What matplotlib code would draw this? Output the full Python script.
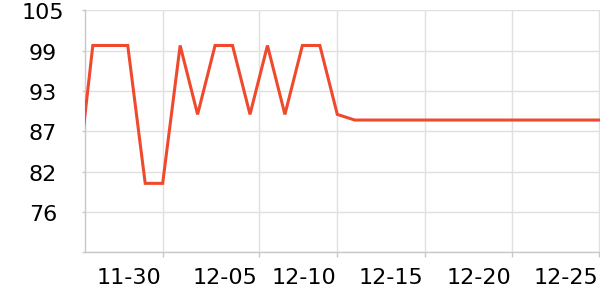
import matplotlib
matplotlib.use("Agg")
import matplotlib.pyplot as plt
import matplotlib.dates as mdates
import matplotlib.transforms as mtransforms
import numpy as np
import pandas as pd

# daily values
dates = pd.date_range("2023-11-25", "2023-12-26", freq="D")
values = [
    78.0, 100, 100, 100, 80.4, 80.4, 100, 90.2, 100, 100,
    90.2, 100, 90.2, 100, 100, 90.2,
    89.4, 89.4, 89.4, 89.4, 89.4, 89.4, 89.4, 89.4, 89.4, 89.4,
    89.4, 89.4, 89.4, 89.4, 89.4, 89.4,
]

# x ticks as shown (12-05 gridline sits half a day later in the reference)
x_tick_dates = pd.to_datetime(
    ["2023-11-30 00:00", "2023-12-05 12:00", "2023-12-10 00:00",
     "2023-12-15 00:00", "2023-12-20 00:00", "2023-12-25 00:00"]
)
x_tick_labels = ["11-30", "12-05", "12-10", "12-15", "12-20", "12-25"]

y_min, y_max = 70.6, 105.0
y_ticks = np.linspace(y_min, y_max, 7)
y_tick_labels = [""] + [str(int(v)) for v in y_ticks[1:]]

line_color = "#ef4a2d"
grid_color = "#e0e0e0"
axis_color = "#c8c8c8"

plt.rcParams["font.family"] = "DejaVu Sans"

fig = plt.figure(figsize=(6.0, 3.0), dpi=100)
ax = fig.add_axes([85.3 / 600, (300 - 252.3) / 300, 1 - 85.3 / 600, (252.3 - 10.3) / 300])

ax.plot(dates, values, color=line_color, lw=2.2, solid_joinstyle="miter", zorder=3)

ax.set_xlim(pd.Timestamp("2023-11-25 13:40"), pd.Timestamp("2023-12-25 01:00"))
ax.set_ylim(y_min, y_max)

ax.set_xticks(mdates.date2num(x_tick_dates))
ax.set_xticklabels(x_tick_labels)
ax.set_yticks(y_ticks)
ax.set_yticklabels(y_tick_labels)

ax.grid(True, color=grid_color, lw=1.0, zorder=0)
ax.set_axisbelow(True)

for side in ["top", "right"]:
    ax.spines[side].set_visible(False)
for side in ["left", "bottom"]:
    ax.spines[side].set_color(axis_color)
    ax.spines[side].set_linewidth(1.0)

ax.tick_params(axis="x", length=3.5, width=1.0, color=axis_color, labelsize=16, pad=8)
ax.tick_params(axis="y", length=2.5, width=1.0, color=axis_color, labelsize=16, pad=28)

# x labels sit just left of their gridline; y labels are centred in the margin
x_shift = mtransforms.ScaledTranslation(-1 / 100, 0, fig.dpi_scale_trans)
for lab in ax.get_xticklabels():
    lab.set_horizontalalignment("right")
    lab.set_transform(lab.get_transform() + x_shift)
y_shift = mtransforms.ScaledTranslation(0, -1.2 / 100, fig.dpi_scale_trans)
for lab in ax.get_yticklabels():
    lab.set_horizontalalignment("center")
    lab.set_transform(lab.get_transform() + y_shift)

fig.savefig("out.png", dpi=100)
